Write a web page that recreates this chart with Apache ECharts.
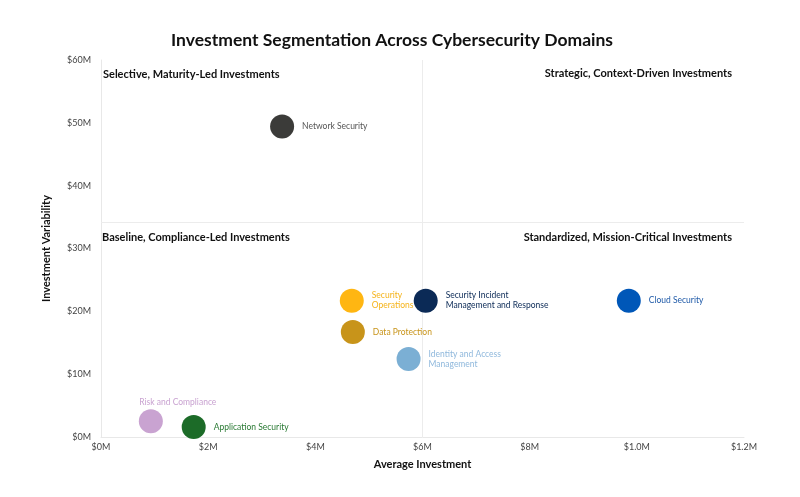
<!DOCTYPE html>
<html>
<head>
<meta charset="utf-8">
<script src="https://cdn.jsdelivr.net/npm/echarts@6/dist/echarts.min.js"></script>
<style>
  html, body { margin: 0; padding: 0; background: #fff; }
  #chart { width: 800px; height: 497px; }
</style>
</head>
<body>
<div id="chart"></div>
<script>
// domains and their values
const domains = [
  'Network Security',
  'Security\nOperations',
  'Security Incident\nManagement and Response',
  'Cloud Security',
  'Data Protection',
  'Identity and Access\nManagement',
  'Risk and Compliance',
  'Application Security'
];
const avgInvestment = [0.338, 0.468, 0.606, 0.985, 0.470, 0.574, 0.093, 0.173];
const variability = [49.4, 21.7, 21.7, 21.7, 16.7, 12.4, 2.5, 1.6];
const domainColors = ['#3b3b39', '#ffb612', '#0b2a56', '#0057b8', '#c8941a', '#7bafd4', '#c9a3d1', '#1c6b28'];
const labelColors = ['#555555', '#f5b31a', '#0b2a56', '#1f5aa8', '#c8941a', '#8fb8dc', '#c9a3d1', '#2a7a34'];

const xTickLabels = ['$0M', '$2M', '$4M', '$6M', '$8M', '$1.0M', '$1.2M'];
const quadrantX = 0.6;
const quadrantY = 34.2;

const font = 'Lato, "Noto Sans", sans-serif';

const chart = echarts.init(document.getElementById('chart'));

const points = domains.map((name, i) => {
  const onTop = name === 'Risk and Compliance';
  return {
    name: name,
    value: [avgInvestment[i], variability[i]],
    itemStyle: { color: domainColors[i], opacity: 1 },
    label: {
      show: true,
      position: onTop ? 'top' : 'right',
      distance: onTop ? 2 : 8,
      offset: onTop ? [27, 0] : [0, 0],
      color: labelColors[i],
      fontSize: 8.5,
      lineHeight: 10,
      fontFamily: font,
      formatter: '{b}'
    }
  };
});

const option = {
  animation: false,
  title: {
    text: 'Investment Segmentation Across Cybersecurity Domains',
    left: 166,
    top: 26,
    textStyle: { fontSize: 17.5, fontWeight: 'bold', color: '#111', fontFamily: font }
  },
  grid: { left: 101, right: 56, top: 60, bottom: 60 },
  xAxis: {
    type: 'value',
    min: 0,
    max: 1.2,
    interval: 0.2,
    name: 'Average Investment',
    nameLocation: 'middle',
    nameGap: 22,
    nameTextStyle: { fontSize: 11, fontWeight: 'bold', color: '#111', fontFamily: font },
    axisLine: { show: true, lineStyle: { color: '#e8e8e8' } },
    axisTick: { show: false },
    splitLine: { show: false },
    axisLabel: {
      fontSize: 9, color: '#444', fontFamily: font, margin: 6,
      formatter: v => xTickLabels[Math.round(v / 0.2)]
    }
  },
  yAxis: {
    type: 'value',
    min: 0,
    max: 60,
    interval: 10,
    name: 'Investment Variability',
    nameLocation: 'middle',
    nameGap: 49,
    nameTextStyle: { fontSize: 11, fontWeight: 'bold', color: '#111', fontFamily: font },
    axisLine: { show: true, lineStyle: { color: '#e8e8e8' } },
    axisTick: { show: false },
    splitLine: { show: false },
    axisLabel: {
      fontSize: 9, color: '#444', fontFamily: font, margin: 10,
      formatter: v => '$' + v + 'M'
    }
  },
  series: [
    {
      // quadrant dividers, kept under the bubbles
      type: 'line',
      z: 1,
      data: [],
      markLine: {
        silent: true,
        z: 1,
        symbol: 'none',
        label: { show: false },
        lineStyle: { color: '#ececec', type: 'solid', width: 1 },
        data: [{ xAxis: quadrantX }, { yAxis: quadrantY }]
      }
    },
    {
      type: 'scatter',
      z: 3,
      symbolSize: 24,
      data: points
    }
  ],
  graphic: [
    { type: 'text', left: 103, top: 69, style: { text: 'Selective, Maturity-Led Investments', fontSize: 11, fontWeight: 'bold', fill: '#111', fontFamily: font } },
    { type: 'text', right: 68, top: 68, style: { text: 'Strategic, Context-Driven Investments', fontSize: 11, fontWeight: 'bold', fill: '#111', fontFamily: font } },
    { type: 'text', left: 102, top: 232, style: { text: 'Baseline, Compliance-Led Investments', fontSize: 11, fontWeight: 'bold', fill: '#111', fontFamily: font } },
    { type: 'text', right: 68, top: 232, style: { text: 'Standardized, Mission-Critical Investments', fontSize: 11, fontWeight: 'bold', fill: '#111', fontFamily: font } }
  ]
};

chart.setOption(option);
</script>
</body>
</html>
